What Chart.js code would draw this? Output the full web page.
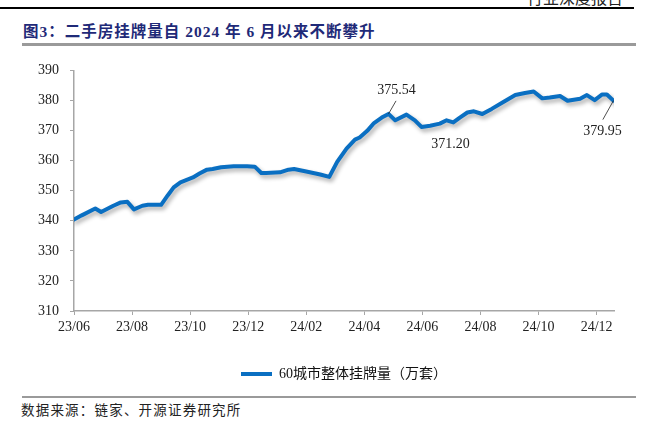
<!DOCTYPE html>
<html>
<head>
<meta charset="utf-8">
<script src="https://cdn.jsdelivr.net/npm/chart.js@4/dist/chart.umd.min.js"></script>
<style>
  body { margin: 0; width: 662px; height: 428px; background: #fff; position: relative; overflow: hidden;
         font-family: "Liberation Serif", "Noto Sans CJK SC", serif; }
  .abs { position: absolute; }
  #topline { top: 7px; left: 0; width: 634px; height: 2px; background: #000; }
  #header { top: -9px; left: 520px; width: 103px; text-align: right; font-size: 16px; line-height: 16px; color: #222; }
  #title { top: 23px; left: 23px; font-size: 15.5px; line-height: 18px; font-weight: bold; color: #1f2a78;
           white-space: nowrap; letter-spacing: 1px; }
  #titleline { top: 43px; left: 22px; width: 614px; height: 3px; background: #9a9a9a; }
  #box { top: 51px; left: 0; width: 662px; height: 340px; }
  #srcline { top: 396px; left: 22px; width: 614px; height: 2px; background: #9a9a9a; }
  #source { top: 403px; left: 21px; font-size: 13.5px; line-height: 16px; color: #222; white-space: nowrap; letter-spacing: 1.2px; }
</style>
</head>
<body>
<div class="abs" id="topline"></div>
<div class="abs" id="header">行业深度报告</div>
<div class="abs" id="title">图3：二手房挂牌量自 2024 年 6 月以来不断攀升</div>
<div class="abs" id="titleline"></div>
<div class="abs" id="box"><canvas id="grafico"></canvas></div>
<div class="abs" id="srcline"></div>
<div class="abs" id="source">数据来源：链家、开源证券研究所</div>

<script>
// dados (60城市整体挂牌量, 万套)
const datas = [
  "2023-06-01", "2023-06-09", "2023-06-23", "2023-06-29", "2023-07-12", "2023-07-20", "2023-07-27",
  "2023-08-03", "2023-08-12", "2023-08-18", "2023-09-01", "2023-09-08", "2023-09-14", "2023-09-21",
  "2023-10-04", "2023-10-11", "2023-10-19", "2023-10-25", "2023-11-03", "2023-11-16", "2023-11-30",
  "2023-12-08", "2023-12-15", "2023-12-20", "2024-01-04", "2024-01-13", "2024-01-19", "2024-02-01",
  "2024-02-15", "2024-02-24", "2024-03-03", "2024-03-13", "2024-03-22", "2024-03-27", "2024-04-04",
  "2024-04-11", "2024-04-19", "2024-04-26", "2024-05-03", "2024-05-15", "2024-05-24", "2024-05-31",
  "2024-06-09", "2024-06-19", "2024-06-26", "2024-07-03", "2024-07-10", "2024-07-18", "2024-07-25",
  "2024-08-03", "2024-08-13", "2024-08-25", "2024-09-07", "2024-09-17", "2024-09-26", "2024-10-05",
  "2024-10-13", "2024-10-24", "2024-11-01", "2024-11-14", "2024-11-21", "2024-11-29", "2024-12-07",
  "2024-12-12", "2024-12-19"
];
const listagens = [
  340.4, 341.8, 344.1, 342.9, 345.0, 346.1, 346.3,
  343.8, 345.0, 345.3, 345.3, 348.5, 351.1, 352.8,
  354.4, 355.7, 357.0, 357.2, 357.8, 358.1, 358.1,
  358.0, 355.9, 355.9, 356.1, 357.0, 357.2, 356.4,
  355.4, 354.6, 359.6, 364.0, 367.0, 367.7, 369.9,
  372.5, 374.3, 375.54, 373.4, 375.3, 373.4, 371.20,
  371.6, 372.3, 373.4, 372.7, 374.3, 376.0, 376.4,
  375.5, 377.2, 379.4, 381.8, 382.5, 383.0, 380.7,
  381.0, 381.5, 379.9, 380.6, 381.8, 380.1, 382.0,
  382.0, 379.95
];
const rotuloSerie = "60城市整体挂牌量（万套）";
const pontosMarcados = [37, 41, 64];
const eixoY = { min: 310, max: 390, passo: 10 };
const eixoX = { fim: 18.6, passo: 2 };  // meses desde 2023/06

// converte "AAAA-MM-DD" em meses desde 2023/06
function mesesDesde(d) {
  const [a, m, dia] = d.split("-").map(Number);
  const diasMes = new Date(a, m, 0).getDate();
  return (a - 2023) * 12 + (m - 6) + (dia - 1) / diasMes;
}

function rotuloMes(v) {
  const total = 5 + Math.round(v);
  const ano = 23 + Math.floor(total / 12);
  const mes = (total % 12) + 1;
  return ano + "/" + String(mes).padStart(2, "0");
}

const azul = "#0a6fc2";
const cinzaEixo = "#a6a6a6";
const fonteSerif = "'Liberation Serif', 'Noto Sans CJK SC', serif";

// sombra suave da linha
const sombra = {
  id: "sombra",
  beforeDatasetsDraw(chart) {
    const ctx = chart.ctx;
    ctx.save();
    ctx.shadowColor = "rgba(0,0,0,0.32)";
    ctx.shadowBlur = 4;
    ctx.shadowOffsetX = 2;
    ctx.shadowOffsetY = 3;
  },
  afterDatasetsDraw(chart) {
    chart.ctx.restore();
  }
};

// rótulos dos valores marcados
const marcacoes = {
  id: "marcacoes",
  afterDatasetsDraw(chart) {
    const ctx = chart.ctx;
    const x = chart.scales.x, y = chart.scales.y;
    const desloc = [
      { tx: 8, ty: -24, lx: 7.5, ly: -13 },
      { tx: 29, ty: 17, lx: null, ly: null },
      { tx: -11, ty: 31, lx: -10.6, ly: 19 }
    ];
    ctx.save();
    ctx.font = "14px " + fonteSerif;
    ctx.fillStyle = "#222";
    ctx.strokeStyle = "#222";
    ctx.lineWidth = 0.8;
    ctx.textAlign = "center";
    ctx.textBaseline = "middle";
    pontosMarcados.forEach((i, k) => {
      const px = x.getPixelForValue(mesesDesde(datas[i]));
      const py = y.getPixelForValue(listagens[i]);
      const d = desloc[k];
      if (d.lx !== null) {
        ctx.beginPath();
        ctx.moveTo(px, py);
        ctx.lineTo(px + d.lx, py + d.ly);
        ctx.stroke();
      }
      ctx.fillText(listagens[i].toFixed(2), px + d.tx, py + d.ty);
    });
    ctx.restore();
  }
};

const pontos = datas.map((d, i) => ({ x: mesesDesde(d), y: listagens[i] }));

const config = {
  type: "line",
  data: {
    datasets: [
      {
        label: rotuloSerie,
        data: pontos,
        borderColor: azul,
        backgroundColor: azul,
        borderWidth: 4,
        borderJoinStyle: "round",
        borderCapStyle: "round",
        pointRadius: 0,
        tension: 0,
      },
    ],
  },
  options: {
    responsive: true,
    maintainAspectRatio: false,
    animation: false,
    layout: { padding: { top: 5, left: 0, right: 48, bottom: 0 } },
    scales: {
      x: {
        type: "linear",
        min: 0,
        max: eixoX.fim,
        afterFit: (s) => { s.height = 46; },
        border: { color: cinzaEixo, width: 1.5 },
        grid: { drawOnChartArea: false, drawTicks: true, tickLength: 4, color: cinzaEixo },
        ticks: {
          stepSize: eixoX.passo,
          includeBounds: false,
          autoSkip: false,
          maxRotation: 0,
          padding: 4,
          color: "#222",
          font: { family: fonteSerif, size: 14 },
          callback: (v) => rotuloMes(v),
        },
      },
      y: {
        min: eixoY.min,
        max: eixoY.max,
        afterFit: (s) => { s.width = 74; },
        border: { color: cinzaEixo, width: 1.5 },
        grid: { drawOnChartArea: false, drawTicks: true, tickLength: 4, color: cinzaEixo },
        ticks: {
          stepSize: eixoY.passo,
          padding: 11,
          color: "#222",
          font: { family: fonteSerif, size: 14 },
        },
      },
    },
    plugins: {
      tooltip: { enabled: false },
      legend: {
        position: "bottom",
        fullSize: false,
        labels: {
          boxWidth: 31,
          boxHeight: 4,
          color: "#111",
          font: { family: fonteSerif, size: 14 },
          generateLabels: (chart) =>
            Chart.defaults.plugins.legend.labels.generateLabels(chart).map((l) => ({ ...l, lineWidth: 0 })),
        },
      },
    },
  },
  plugins: [sombra, marcacoes],
};

const meuGrafico = new Chart(document.getElementById("grafico"), config);
</script>
</body>
</html>
